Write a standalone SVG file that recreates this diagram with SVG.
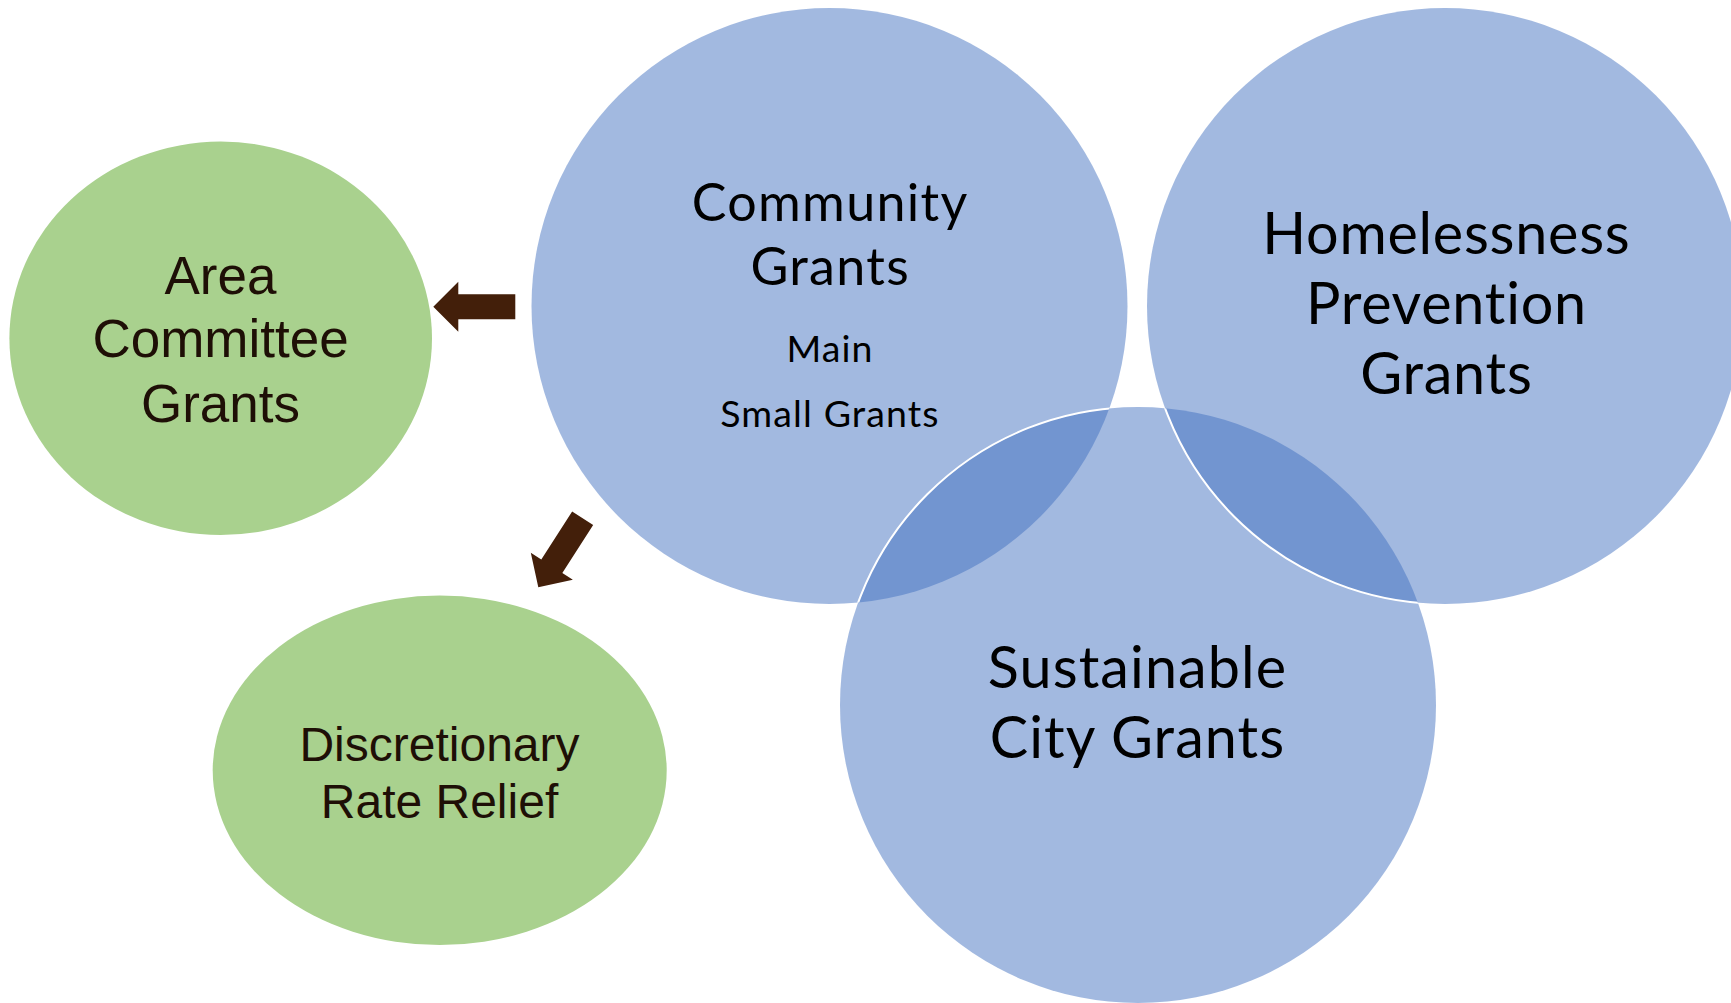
<svg xmlns="http://www.w3.org/2000/svg" width="1731" height="1003" viewBox="0 0 1731 1003">
<style>
.blue{fill:#3F6FBF;fill-opacity:0.485}
.green{fill:#A9D18E}
.edge{fill:none;stroke:#FFFFFF;stroke-width:2}
.cal{font-family:Lato,"Open Sans","Liberation Sans",sans-serif;fill:#000000;text-anchor:middle}
.ar{font-family:"Liberation Sans",Arial,sans-serif;fill:#1E0F06;text-anchor:middle}
.arrow{fill:#431F0A}
</style>
<defs>
<clipPath id="clipCommunity"><circle cx="829.5" cy="306" r="298"/></clipPath>
<clipPath id="clipSustainable"><circle cx="1138" cy="705" r="298"/></clipPath>
<path id="arrowShape" d="M0,0 L25,-25 L25,-12.5 L82,-12.5 L82,12.5 L25,12.5 L25,25 Z"/>
</defs>
<rect width="1731" height="1003" fill="#FFFFFF"/>
<g id="area-committee">
<ellipse class="green" cx="220.7" cy="338.3" rx="211.3" ry="196.7"/>
<text class="ar" font-size="53"><tspan x="220.5" y="294">Area</tspan><tspan x="220.5" y="357.3">Committee</tspan><tspan x="220.5" y="421.7">Grants</tspan></text>
</g>
<g id="discretionary">
<ellipse class="green" cx="439.7" cy="770.3" rx="227" ry="174.7"/>
<text class="ar" font-size="48"><tspan x="439.5" y="761">Discretionary</tspan><tspan x="439.5" y="817.7">Rate Relief</tspan></text>
</g>
<g id="community">
<circle class="blue" cx="829.5" cy="306" r="298"/>
</g>
<g id="sustainable">
<circle class="blue" cx="1138" cy="705" r="298"/>
<circle class="edge" cx="1138" cy="705" r="298" clip-path="url(#clipCommunity)"/>
</g>
<g id="homelessness">
<circle class="blue" cx="1445" cy="306" r="298"/>
<circle class="edge" cx="1445" cy="306" r="298" clip-path="url(#clipSustainable)"/>
</g>
<g id="labels">
<text class="cal" font-size="52" letter-spacing="1.3"><tspan x="830.2" y="221">Community</tspan><tspan x="830.2" y="285">Grants</tspan></text>
<text class="cal" font-size="37.5" letter-spacing="1.1"><tspan x="830" y="362">Main</tspan><tspan x="830" y="427">Small Grants</tspan></text>
<text class="cal" font-size="57.5" letter-spacing="0.75"><tspan x="1446.4" y="253.5">Homelessness</tspan><tspan x="1446.4" y="324">Prevention</tspan><tspan x="1446.4" y="394">Grants</tspan></text>
<text class="cal" font-size="57.5" letter-spacing="1.1"><tspan x="1137.5" y="688">Sustainable</tspan><tspan x="1137.5" y="757.5">City Grants</tspan></text>
</g>
<g id="connectors">
<use href="#arrowShape" class="arrow" transform="translate(433.3,306.7)"/>
<use href="#arrowShape" class="arrow" transform="translate(538.3,587.3) rotate(-57.25)"/>
</g>
</svg>
